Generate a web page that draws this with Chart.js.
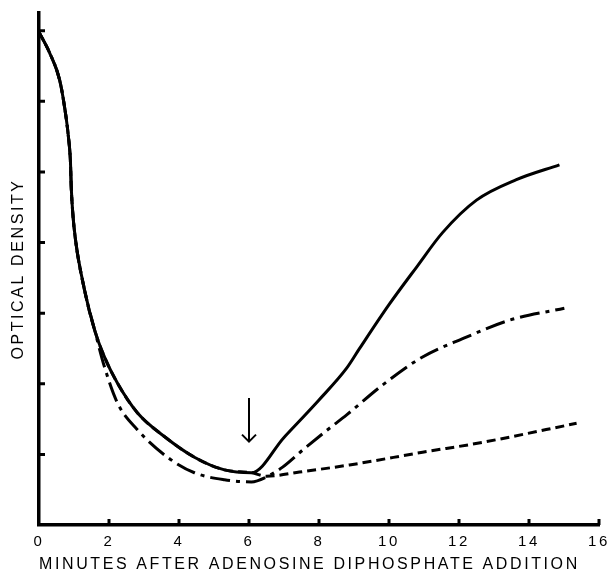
<!DOCTYPE html>
<html>
<head>
<meta charset="utf-8">
<title>Optical density after ADP addition</title>
<script src="https://cdn.jsdelivr.net/npm/chart.js@4.4.1/dist/chart.umd.min.js"></script>
<style>
  html, body { margin: 0; padding: 0; background: #fff; }
  #chart { display: block; }
</style>
</head>
<body>
<canvas id="chart" width="611" height="571"></canvas>
<script>
// Readings are in minutes (x) and optical density in axis-tick units (y, unlabelled on the original).

// Common fall of all three traces before they separate
const descentMinutes = [0, 0.3, 0.59, 0.73, 0.84, 0.9, 0.92, 0.96, 1.04, 1.3, 1.59];
const descentDensity = [6.98, 6.69, 6.3, 5.92, 5.5, 5.13, 4.8, 4.45, 4.05, 3.33, 2.76];

// Lower part of the upper trace, shared by the solid and dashed curves
const lowMinutes = [1.87, 2.24, 2.81, 3.59, 4.44, 5.3, 6.07];
const lowDensity = [2.38, 2.01, 1.59, 1.25, 0.96, 0.78, 0.74];

// Solid curve after the arrow
const solidRiseMinutes = [7.0, 8.0, 8.79, 9.16, 10.0, 10.8, 11.53, 12.5, 13.64, 14.87];
const solidRiseDensity = [1.24, 1.77, 2.22, 2.5, 3.12, 3.66, 4.14, 4.6, 4.89, 5.1];

// Dash-dot curve, from where it leaves the common fall
const dashDotMinutes = [1.87, 2.24, 2.81, 3.67, 4.44, 5.3, 6.07, 6.5, 6.96, 7.53, 8.3, 8.79, 9.81, 10.96, 12.21, 13.44, 15.01];
const dashDotDensity = [2.24, 1.73, 1.35, 0.96, 0.74, 0.64, 0.61, 0.68, 0.82, 1.06, 1.37, 1.56, 1.98, 2.38, 2.66, 2.9, 3.07];

// Dashed curve after the arrow
const dashedTailMinutes = [6.5, 7.44, 8.87, 10.96, 12.67, 15.36];
const dashedTailDensity = [0.69, 0.75, 0.85, 1.03, 1.17, 1.44];

const xTicks = [2, 4, 6, 8, 10, 12, 14, 16];
const yTicks = [1, 2, 3, 4, 5, 6, 7];

// Arrow marking the moment of the second addition
const arrowMinute = 6;
const arrowTop = 1.8;
const arrowTip = 1.18;

const INK = '#000';
const FONT = "'Liberation Sans', Arial, Helvetica, sans-serif";

function toPoints(xs, ys) {
  return xs.map((x, i) => ({ x, y: ys[i] }));
}

const solidPoints = toPoints(
  descentMinutes.concat(lowMinutes, solidRiseMinutes),
  descentDensity.concat(lowDensity, solidRiseDensity)
);
const dashDotPoints = toPoints(
  descentMinutes.concat(dashDotMinutes),
  descentDensity.concat(dashDotDensity)
);
const dashedPoints = toPoints(
  descentMinutes.concat(lowMinutes, dashedTailMinutes),
  descentDensity.concat(lowDensity, dashedTailDensity)
);

function curve(label, data, dash) {
  return {
    label,
    data,
    showLine: true,
    borderColor: INK,
    borderWidth: 3,
    borderDash: dash,
    pointRadius: 0,
    pointHoverRadius: 0,
    cubicInterpolationMode: 'monotone',
    fill: false,
  };
}

// Letter spacing for the spaced-out typewriter style labels
const spacingPlugin = {
  id: 'spacing',
  beforeDraw(chart) {
    chart.ctx.letterSpacing = '2.6px';
  },
};

// Short tick marks pointing into the plot, plus the arrow
const marksPlugin = {
  id: 'marks',
  afterDatasetsDraw(chart) {
    const { ctx, scales } = chart;
    const x = scales.x;
    const y = scales.y;
    ctx.save();
    ctx.strokeStyle = INK;
    ctx.lineWidth = 3;
    ctx.lineCap = 'butt';
    ctx.beginPath();
    xTicks.forEach((v) => {
      const px = x.getPixelForValue(v);
      ctx.moveTo(px, y.bottom);
      ctx.lineTo(px, y.bottom - 6);
    });
    yTicks.forEach((v) => {
      const py = y.getPixelForValue(v);
      ctx.moveTo(x.left, py);
      ctx.lineTo(x.left + 6, py);
    });
    ctx.stroke();

    const ax = x.getPixelForValue(arrowMinute);
    const top = y.getPixelForValue(arrowTop);
    const tip = y.getPixelForValue(arrowTip);
    ctx.lineWidth = 2;
    ctx.beginPath();
    ctx.moveTo(ax, top);
    ctx.lineTo(ax, tip);
    ctx.stroke();
    ctx.lineJoin = 'miter';
    ctx.beginPath();
    ctx.moveTo(ax - 7, tip - 7);
    ctx.lineTo(ax, tip);
    ctx.lineTo(ax + 7, tip - 7);
    ctx.stroke();
    ctx.restore();
  },
};

new Chart(document.getElementById('chart'), {
  type: 'scatter',
  data: {
    datasets: [
      curve('Solid', solidPoints, []),
      curve('Dash-dot', dashDotPoints, [20, 6, 4, 6]),
      curve('Dashed', dashedPoints, [9, 5]),
    ],
  },
  options: {
    responsive: false,
    animation: false,
    events: [],
    layout: { padding: { top: 13, right: 12, left: 0, bottom: 0 } },
    plugins: {
      legend: { display: false },
      tooltip: { enabled: false },
    },
    scales: {
      x: {
        type: 'linear',
        min: 0,
        max: 16,
        afterFit(scale) { scale.height = 46; },
        border: { display: true, color: INK, width: 3.5 },
        grid: { display: false },
        ticks: {
          stepSize: 2,
          padding: 0,
          color: INK,
          font: { family: FONT, size: 15 },
        },
        title: {
          display: true,
          text: 'MINUTES AFTER ADENOSINE DIPHOSPHATE ADDITION',
          align: 'start',
          color: INK,
          font: { family: FONT, size: 16, lineHeight: 0.8 },
          padding: 0,
        },
      },
      y: {
        type: 'linear',
        min: 0,
        max: 7.25,
        afterFit(scale) { scale.width = 39; },
        border: { display: true, color: INK, width: 3.5 },
        grid: { display: false },
        ticks: { display: false, stepSize: 1 },
        title: {
          display: true,
          text: 'OPTICAL DENSITY',
          color: INK,
          font: { family: FONT, size: 16, lineHeight: 1.2 },
          padding: { top: 9, bottom: 0 },
        },
      },
    },
  },
  plugins: [spacingPlugin, marksPlugin],
});
</script>
</body>
</html>
